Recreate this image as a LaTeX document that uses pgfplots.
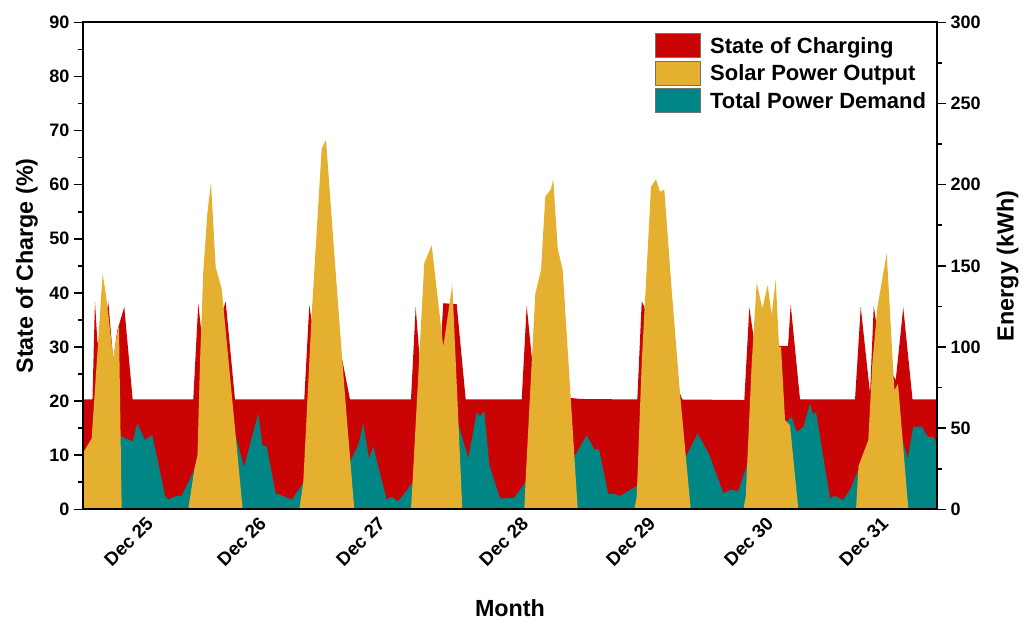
\documentclass[border=0pt]{standalone}
\usepackage{fontspec}
\setmainfont{Liberation Sans}
\usepackage{pgfplots}
\pgfplotsset{compat=1.18}
\definecolor{cred}{RGB}{202,4,4}
\definecolor{cyel}{RGB}{229,175,48}
\definecolor{cteal}{RGB}{0,134,132}
\begin{document}
\begin{tikzpicture}
\path[use as bounding box] (-62pt,-83.8pt) rectangle (712pt,382pt);
\pgfplotsset{
  common/.style={
    scale only axis, width=641pt, height=365.25pt,
    at={(0pt,0pt)}, anchor=south west,
    xmin=82.7, xmax=937.3,
    axis on top,
    axis line style={line width=1.4pt},
    /pgf/number format/assume math mode=true,
    tick label style={font=\bfseries\fontsize{13.5}{14}\selectfont},
    label style={font=\bfseries\fontsize{17.5}{18}\selectfont},
    major tick length=6.5pt, minor tick length=3.5pt,
    tick style={line width=1.2pt, black},
    tick align=outside,
  }
}
\begin{axis}[common,
  ymin=0, ymax=90, ytick={0,10,...,90}, minor y tick num=1, ytick pos=left,
  xtick={150,263,382,525,652,770,885},
  xticklabels={Dec 25,Dec 26,Dec 27,Dec 28,Dec 29,Dec 30,Dec 31},
  xtick pos=bottom,
  xticklabel shift=1.5pt,
  x tick label style={rotate=45, anchor=east, inner sep=0pt, font=\bfseries\fontsize{14}{14}\selectfont},
  xtick style={draw=none},
  ylabel={State of Charge (\%)},
  ylabel style={at={(axis description cs:-0.0652,0.5)}, anchor=center},
  xlabel={Month},
  xlabel style={at={(axis description cs:0.5,-0.2026)}, anchor=center},
]
\addplot[fill=cred, draw=none] coordinates {
(82.7,20.3)(92.5,20.3)(95,38.4)(97.5,30.7)(104,33)(108.3,38.4)(113.3,27.5)(117.3,33)(124.3,37.4)(132.7,20.3)
(193.3,20.3)(198.3,38)(203,30)(215,33)(221.7,36)(225.7,38.4)(235,20.3)
(304.3,20.3)(309.3,37.7)(316,30)(340,28)(342.3,27.6)(350,20.3)
(411,20.3)(415.7,37.4)(420,27)(440,28)(443.3,38.1)(456.7,37.9)(465.7,20.3)
(521.7,20.3)(526.7,37.6)(531.7,28.2)(550,30)(565,25)(570,20.6)(580,20.4)
(637.3,20.3)(641.7,38.4)(644.3,37.5)(650,30)(675,25)(680,21.4)(682.3,20.3)
(744.3,20.2)(749.3,37.3)(755,30)(770,30)(780,30.2)(788,30.2)(790.7,37.8)(800,20.3)
(855,20.3)(860.7,37.4)(870,21.4)(873.7,37.5)(880,30)(890,26)(895.7,23.9)(903.2,37.3)(912.5,20.3)(937.3,20.3)
} \closedcycle;
\end{axis}
\begin{axis}[common,
  ymin=0, ymax=300, ytick={0,50,...,300}, minor y tick num=1, ytick pos=right, yticklabel pos=right,
  xtick=\empty,
  ylabel={Energy (kWh)},
  ylabel style={at={(axis description cs:1.0822,0.5)}, anchor=center},
  legend image code/.code={\draw[#1] (0pt,-8.5pt) rectangle (33.75pt,9.5pt);},
  legend style={at={(rel axis cs:0.9903,0.978)}, anchor=north east, draw=none, fill=none,
    font=\bfseries\fontsize{16.5}{17}\selectfont, row sep=2pt, inner sep=0pt, cells={anchor=west},
    /tikz/every odd column/.append style={column sep=5pt}},
]
\addplot[fill=cteal, draw=none, forget plot] coordinates {
(82.7,16.7)(115,16.7)(120,45)(121.7,45)(132.7,41.7)(137.3,53)(145,42.7)(152.3,45.7)(165,8.7)(168.3,6)(176.7,8.3)(181.7,8.3)
(194.3,24.3)(197.5,31.7)(200,30)(230,33.3)(235,46.7)(244,26)(258.3,59)(262.3,39.7)(266.7,38.7)(275.7,9.7)(280,9)(291.7,6)
(303.3,16.3)(310,20)(345,26.7)(351.7,31.3)(358.3,39.7)(363.3,52.7)(369,31.3)(373.3,38.7)(379,24.3)(386.7,6)(391,7.7)(398.3,5)
(411.7,15.7)(420,23.3)(450,40)(456.7,56)(468.3,31.3)(476.7,60)(480,57.3)(484.3,60.7)(489.3,27.3)(500,6.7)(514,7)
(525,16.3)(540,23.3)(565,26.7)(573.3,31.3)(586.7,45.7)(594.3,37)(599,37)(608.3,9.3)(613.3,9.7)(620,8.3)
(636.7,14.3)(650,20)(680,30)(685,31.3)(697.5,46.7)(709,34)(723.3,10)(730.7,12)(738.3,11.3)
(746.9,27.3)(760,33.3)(775,43.3)(785,53)(791.7,57)(796.7,47.7)(803.3,50.7)(810,65.3)(813,58.3)(816,60)(830,6.7)(834.7,8.3)(843,5.7)(850,12)
(857.5,23.3)(865,30)(880,33.3)(895,36.7)(900,40)(903,41.3)(907.7,31.3)(913.3,51)(921.7,51)(927.7,44.7)(933.3,44.7)(937.3,39.7)
} \closedcycle;
\addplot[fill=cyel, draw=none, forget plot] coordinates {
(82.7,34.3)(91.7,43.7)(102.7,145)(106,132)(113.3,93.3)(117.7,110.3)(119,113)(121.7,0)
(188.3,0)(194.5,25)(197.5,33.3)(200,90)(203.3,146.7)(207.5,183.3)(211,201.3)(215.7,149)(221.7,136)(242.7,0)
(299.3,0)(303.3,16.7)(311.7,120)(321.7,222.3)(326,227.7)(335,151.7)(342.3,92)(346.7,57)(354.3,0)
(411,0)(412.5,16)(424.3,151.7)(431.7,162.7)(443.3,100)(452.3,138.7)(462.3,0)
(524.3,0)(525.5,16.7)(535.3,133)(541,147.3)(545.3,192.7)(550.7,197)(553.3,203)(557.7,160.7)(562.7,147.3)(577.7,0)
(634.3,0)(636.7,7.7)(641.7,90)(651,198.7)(656,203.3)(660,195.7)(664.3,197)(671.7,135)(680,71.3)(690.7,0)
(743.3,0)(745.7,7.7)(751.7,90)(756.7,139.7)(762.3,123.7)(767.7,138)(771.7,119.7)(775.7,141.7)(779,100)(781,100)(785,55)(790,51.7)(798.3,0)
(856,0)(858.5,26.7)(868.3,42.7)(872.3,90)(877.5,125)(886.7,157.7)(894.3,73.3)(898,77.3)(908.3,0)(937.3,0)
} \closedcycle;
\addlegendimage{fill=cred, draw=black!55, line width=0.6pt}
\addlegendentry{State of Charging}
\addlegendimage{fill=cyel, draw=black!55, line width=0.6pt}
\addlegendentry{Solar Power Output}
\addlegendimage{fill=cteal, draw=black!55, line width=0.6pt}
\addlegendentry{Total Power Demand}
\end{axis}
\end{tikzpicture}
\end{document}
